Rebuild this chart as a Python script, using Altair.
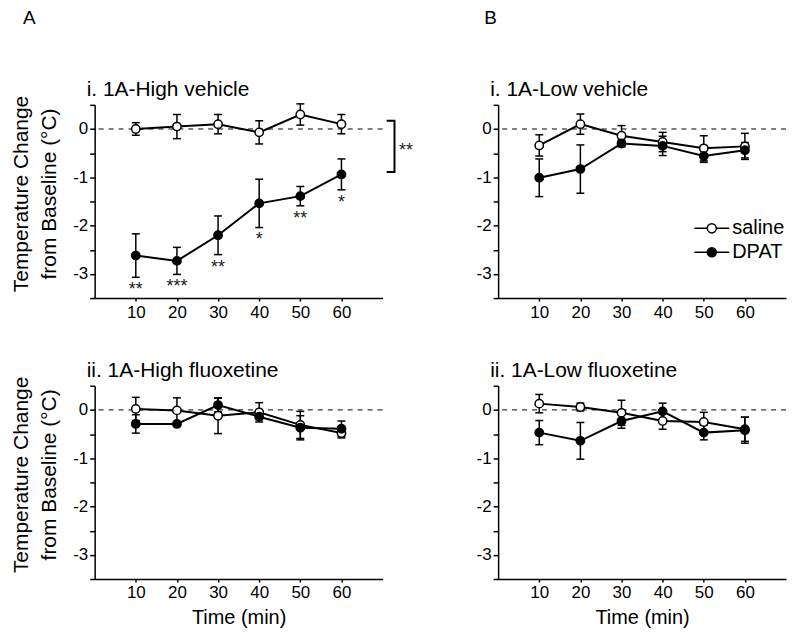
import altair as alt
import pandas as pd

TIME = [10, 20, 30, 40, 50, 60]
GROUPS = ["saline", "DPAT"]

HIGH_VEH_SALINE = [0.0, 0.05, 0.1, -0.07, 0.3, 0.1]
HIGH_VEH_SALINE_ERR = [0.13, 0.25, 0.2, 0.24, 0.22, 0.2]
HIGH_VEH_DPAT = [-2.62, -2.73, -2.2, -1.54, -1.39, -0.94]
HIGH_VEH_DPAT_ERR = [0.45, 0.28, 0.4, 0.5, 0.2, 0.32]
HIGH_VEH_STARS = ["**", "***", "**", "*", "**", "*"]

LOW_VEH_SALINE = [-0.34, 0.1, -0.14, -0.27, -0.4, -0.36]
LOW_VEH_SALINE_ERR = [0.22, 0.21, 0.21, 0.2, 0.26, 0.27]
LOW_VEH_DPAT = [-1.01, -0.83, -0.3, -0.35, -0.56, -0.44]
LOW_VEH_DPAT_ERR = [0.39, 0.5, 0.07, 0.2, 0.13, 0.16]

HIGH_FLX_SALINE = [0.02, -0.01, -0.12, -0.05, -0.31, -0.48]
HIGH_FLX_SALINE_ERR = [0.24, 0.26, 0.37, 0.2, 0.28, 0.1]
HIGH_FLX_DPAT = [-0.29, -0.29, 0.1, -0.14, -0.37, -0.39]
HIGH_FLX_DPAT_ERR = [0.19, 0.05, 0.14, 0.06, 0.25, 0.16]

LOW_FLX_SALINE = [0.13, 0.06, -0.06, -0.23, -0.25, -0.4]
LOW_FLX_SALINE_ERR = [0.19, 0.08, 0.26, 0.17, 0.2, 0.25]
LOW_FLX_DPAT = [-0.47, -0.64, -0.23, -0.03, -0.47, -0.42]
LOW_FLX_DPAT_ERR = [0.25, 0.38, 0.15, 0.17, 0.15, 0.27]

Y_TICKS = [0.5, 0, -0.5, -1, -1.5, -2, -2.5, -3, -3.5]

# significance bracket between the two High-vehicle curves
BRACKET_X = [71.0, 72.9, 72.9, 71.0]
BRACKET_Y = [0.17, 0.17, -0.89, -0.89]
BRACKET_LABEL = ["**"]
BRACKET_LABEL_X = [75.7]
BRACKET_LABEL_Y = [-0.37]

Y_TITLE = ["Temperature Change", "from Baseline  (°C)"]
FONT = "Liberation Sans"

W, H = 289, 194


def make_df(s, se, d, de):
    rows = []
    for g, m, e in (("saline", s, se), ("DPAT", d, de)):
        for t, mi, ei in zip(TIME, m, e):
            rows.append({"time": t, "group": g, "mean": mi,
                         "lo": mi - ei, "hi": mi + ei})
    return pd.DataFrame(rows)


def panel(df, title, ytitle, xtitle, title_offset, legend=False, stars=None,
          bracket=False):
    xscale = alt.Scale(domain=[0, 70], nice=False, zero=False)
    yscale = alt.Scale(domain=[-3.5, 0.5], nice=False, zero=False)
    xaxis_kw = dict(values=TIME, tickSize=3, labelPadding=3, titlePadding=7)
    yaxis_kw = dict(values=Y_TICKS,
                    labelExpr="datum.value % 1 == 0 ? '' + datum.value : ''",
                    tickSize=5, labelPadding=2, titlePadding=13,
                    titleLineHeight=28, titleY=H / 2 - 8, titleFontSize=21)
    xaxis = alt.Axis(title=xtitle, **xaxis_kw) if xtitle else alt.Axis(title=None, **xaxis_kw)
    yaxis = alt.Axis(title=ytitle, **yaxis_kw) if ytitle else alt.Axis(title=None, **yaxis_kw)

    def X(f="time"):
        return alt.X(f"{f}:Q", scale=xscale, axis=xaxis)

    def Y(f):
        return alt.Y(f"{f}:Q", scale=yscale, axis=yaxis)

    base = alt.Chart(df)
    zero = alt.Chart(pd.DataFrame({"zero": [0]})).mark_rule(
        color="black", strokeWidth=1, strokeDash=[5, 5]).encode(y=Y("zero"))
    lines = base.mark_line(color="black", strokeWidth=2).encode(
        x=X(), y=Y("mean"), detail="group:N")
    err = base.mark_rule(color="black", strokeWidth=1.5).encode(
        x=X(), y=Y("lo"), y2="hi:Q")
    cap_lo = base.mark_tick(orient="horizontal", color="black", size=8,
                            thickness=1.5, opacity=1).encode(x=X(), y=Y("lo"))
    cap_hi = base.mark_tick(orient="horizontal", color="black", size=8,
                            thickness=1.5, opacity=1).encode(x=X(), y=Y("hi"))
    fill_scale = alt.Scale(domain=GROUPS, range=["white", "black"])
    if legend:
        leg = alt.Legend(
            orient="none", legendX=196, legendY=112, title=None,
            symbolType="M-1,0L-0.26,0M0.26,0L1,0M0.26,0A0.26,0.26,0,1,1,-0.26,0A0.26,0.26,0,1,1,0.26,0Z",
            symbolSize=1225, symbolStrokeColor="black", symbolStrokeWidth=1.5,
            labelFont=FONT, labelFontSize=20, labelColor="black",
            clipHeight=24, rowPadding=0, labelOffset=2)
    else:
        leg = None
    pts = base.mark_point(shape="circle", filled=True, size=70, stroke="black",
                          strokeWidth=1.5, opacity=1).encode(
        x=X(), y=Y("mean"),
        fill=alt.Fill("group:N", scale=fill_scale, legend=leg))
    layers = [zero, lines, err, cap_lo, cap_hi, pts]
    if stars is not None:
        sdf = df[df["group"] == "DPAT"].copy()
        sdf["star"] = stars
        layers.append(alt.Chart(sdf).mark_text(
            font=FONT, fontSize=18, color="#222", baseline="middle", dy=13).encode(
            x=X(), y=Y("lo"), text="star:N"))
    if bracket:
        bdf = pd.DataFrame({"bx": BRACKET_X, "by": BRACKET_Y,
                            "o": list(range(len(BRACKET_X)))})
        layers.append(alt.Chart(bdf).mark_line(color="black", strokeWidth=2).encode(
            x=X("bx"), y=Y("by"), order="o:Q"))
        ldf = pd.DataFrame({"lx": BRACKET_LABEL_X, "ly": BRACKET_LABEL_Y,
                            "t": BRACKET_LABEL})
        layers.append(alt.Chart(ldf).mark_text(
            font=FONT, fontSize=18, color="#222", baseline="middle", dy=4).encode(
            x=X("lx"), y=Y("ly"), text="t:N"))
    return alt.layer(*layers).properties(
        width=W, height=H,
        title=alt.TitleParams(title, anchor="start", frame="group", dx=-8,
                              fontSize=21, font=FONT, fontWeight="normal",
                              color="black", offset=title_offset))


a1 = panel(make_df(HIGH_VEH_SALINE, HIGH_VEH_SALINE_ERR, HIGH_VEH_DPAT, HIGH_VEH_DPAT_ERR),
           "i. 1A-High vehicle", Y_TITLE, None, -5, stars=HIGH_VEH_STARS, bracket=True)
a2 = panel(make_df(HIGH_FLX_SALINE, HIGH_FLX_SALINE_ERR, HIGH_FLX_DPAT, HIGH_FLX_DPAT_ERR),
           "ii. 1A-High fluoxetine", Y_TITLE, "Time (min)", -5)
b1 = panel(make_df(LOW_VEH_SALINE, LOW_VEH_SALINE_ERR, LOW_VEH_DPAT, LOW_VEH_DPAT_ERR),
           "i. 1A-Low vehicle", None, None, 4, legend=True)
b2 = panel(make_df(LOW_FLX_SALINE, LOW_FLX_SALINE_ERR, LOW_FLX_DPAT, LOW_FLX_DPAT_ERR),
           "ii. 1A-Low fluoxetine", None, "Time (min)", 4)

colA = alt.vconcat(a1, a2, spacing=88, bounds="flush",
                   title=alt.TitleParams("A", anchor="start", frame="group", dx=-72,
                                         fontSize=19, font=FONT, fontWeight="normal",
                                         color="black", offset=51)
                   ).resolve_scale(fill="independent").resolve_legend(fill="independent")
colB = alt.vconcat(b1, b2, spacing=88, bounds="flush",
                   title=alt.TitleParams("B", anchor="start", frame="group", dx=-14,
                                         fontSize=19, font=FONT, fontWeight="normal",
                                         color="black", offset=51)
                   ).resolve_scale(fill="independent").resolve_legend(fill="independent")

# flush bounds: nested columns report no width, so spacing includes panel width
chart = alt.hconcat(colA, colB, spacing=W + 116, bounds="flush").resolve_scale(
    fill="independent").resolve_legend(fill="independent").properties(
    padding={"left": 2, "top": 0, "right": 5, "bottom": 5}
).configure(font=FONT).configure_view(stroke=None).configure_axis(
    grid=False, domainColor="black", domainWidth=1.5, tickColor="black",
    tickWidth=1.5, labelFont=FONT, labelFontSize=17, labelColor="black",
    titleFont=FONT, titleFontSize=20, titleFontWeight="normal", titleColor="black")

chart.save("out.html", embed_options={"renderer": "svg", "actions": False})
